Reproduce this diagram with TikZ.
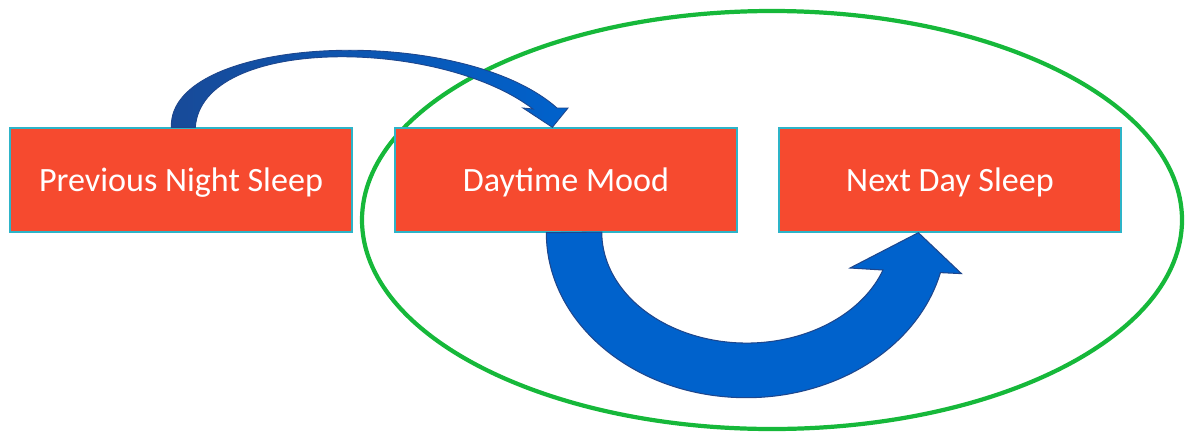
\documentclass[tikz,border=0pt]{standalone}
\usepackage{fontspec}
\setmainfont{Carlito}
\usepackage{tikz}
\usetikzlibrary{calc}
\definecolor{boxred}{RGB}{246,74,47}
\definecolor{boxline}{RGB}{45,180,200}
\definecolor{ringgreen}{RGB}{22,184,58}
\definecolor{arrowblue}{RGB}{0,98,204}
\definecolor{arrowdark}{RGB}{24,74,152}
\definecolor{arrowedge}{RGB}{30,70,140}
\tikzset{stage/.style={rectangle,draw=boxline,line width=.8pt,fill=boxred,text=white,minimum width=6.84cm,minimum height=2.08cm,inner sep=0pt,text depth=0pt,font=\fontsize{19.4}{21}\selectfont}}
\tikzset{ring/.style={draw=ringgreen,line width=2.4pt}}
\tikzset{bigarrow/.style={fill=arrowblue,draw=arrowedge,line width=.6pt}}
\tikzset{thinarrow/.style={left color=arrowdark,right color=arrowblue,draw=arrowedge,line width=.5pt}}

\begin{document}
\begin{tikzpicture}[x=0.02cm,y=-0.02cm]
  \useasboundingbox (0,0) rectangle (1185,433);
  \draw[ring] (772,220) ellipse[x radius=410,y radius=209];
  \node[stage] (prev) at (181,180) {Previous Night Sleep};
  \node[stage] (mood) at (566,180) {Daytime Mood};
  \node[stage] (next) at (950,180) {Next Day Sleep};
  % small arrow over the top
  \draw[thinarrow] ($(prev.north west)+(162,0)$) .. controls (168,35) and (460,22) .. (557,108)
    -- (568,108) -- ($(mood.north west)+(158,0)$) -- (523,108) -- (533,109)
    .. controls (440,38) and (202,35) .. ($(prev.north west)+(186,0)$) -- cycle;
  % big arrow underneath
  \draw[bigarrow] ($(mood.south west)+(152,0)$) arc[start angle=180,end angle=14,x radius=200,y radius=165]
    -- ++(21,1) -- ($(next.south west)+(140,0)$) -- (850,268) -- (883,270)
    arc[start angle=20,end angle=180,x radius=145,y radius=111] -- cycle;
\end{tikzpicture}
\end{document}
